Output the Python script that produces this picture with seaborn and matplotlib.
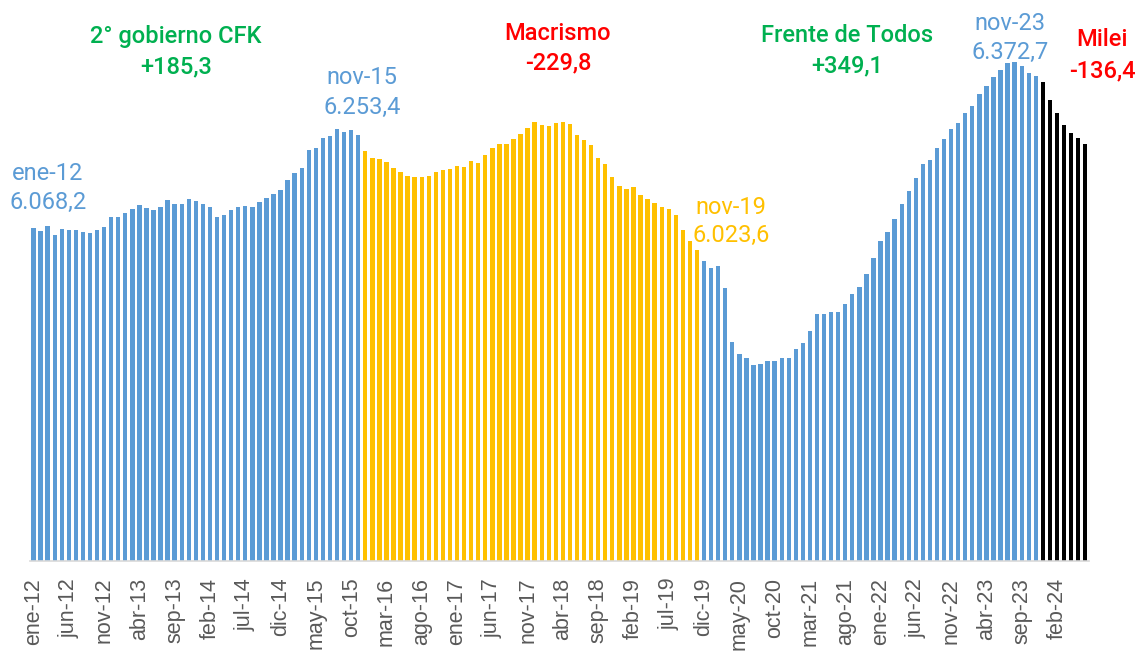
import matplotlib
matplotlib.use("Agg")
import matplotlib.pyplot as plt
import seaborn as sns
import pandas as pd

# monthly values (miles), ene-12 .. jun-24
meses = ["ene", "feb", "mar", "abr", "may", "jun", "jul", "ago", "sep", "oct", "nov", "dic"]
labels = [f"{m}-{y % 100:02d}" for y in range(2012, 2025) for m in meses][:150]

cfk2 = [6068.2, 6062.8, 6072.8, 6054.1, 6066.2, 6064.8, 6063.4, 6060.2, 6058.8, 6063.4,
        6069.4, 6090.9, 6090.9, 6098.3, 6105.6, 6115.0, 6109.0, 6103.0, 6110.4, 6124.4,
        6115.6, 6117.0, 6127.0, 6123.0, 6115.6, 6109.6, 6090.3, 6094.9, 6104.3, 6110.4,
        6112.4, 6110.4, 6119.6, 6127.6, 6135.1, 6143.1, 6163.2, 6177.9, 6187.3, 6223.4,
        6228.8, 6247.5, 6252.9, 6265.6, 6260.9, 6263.6, 6253.4]
macri = [6222.8, 6208.8, 6206.8, 6199.9, 6187.9, 6179.8, 6171.2, 6169.8, 6169.8, 6172.6,
         6180.6, 6184.7, 6186.7, 6192.7, 6189.9, 6201.3, 6198.0, 6213.4, 6227.4, 6235.5,
         6235.5, 6245.5, 6256.9, 6268.9, 6281.0, 6275.0, 6271.6, 6279.0, 6281.0, 6275.6,
         6254.1, 6243.5, 6234.8, 6208.8, 6195.3, 6169.2, 6152.5, 6145.1, 6150.5, 6133.1,
         6126.4, 6119.0, 6110.9, 6105.6, 6094.3, 6064.8, 6042.1, 6023.6]
fdt = [6002.5, 5987.9, 5991.9, 5947.7, 5839.3, 5815.2, 5807.8, 5792.3, 5795.1, 5800.3,
       5800.3, 5807.2, 5807.2, 5824.4, 5837.9, 5862.0, 5896.1, 5896.1, 5900.1, 5900.1,
       5914.8, 5935.7, 5950.3, 5975.0, 6008.0, 6042.1, 6060.8, 6086.3, 6117.0, 6142.5,
       6168.6, 6196.7, 6203.9, 6228.1, 6246.9, 6265.6, 6277.6, 6297.7, 6312.4, 6336.5,
       6353.3, 6370.6, 6385.5, 6399.5, 6400.8, 6392.7, 6379.4, 6372.7]
milei = [6361.4, 6324.4, 6297.7, 6273.6, 6257.5, 6248.9, 6236.3]

periodos = ["cfk"] * len(cfk2) + ["macri"] * len(macri) + ["fdt"] * len(fdt) + ["milei"] * len(milei)
colores = {"cfk": "#5B9BD5", "macri": "#FFC000", "fdt": "#5B9BD5", "milei": "#000000"}

df = pd.DataFrame({"mes": labels, "valor": cfk2 + macri + fdt + milei, "periodo": periodos})

sns.set_style("white")
plt.rcParams["font.family"] = ["Liberation Sans", "DejaVu Sans"]

fig = plt.figure(figsize=(11.36, 6.51), dpi=100)
ax = fig.add_axes([0.0264, 0.138, 0.932, 0.862])
sns.barplot(data=df, x="mes", y="valor", hue="periodo", palette=colores, saturation=1,
            dodge=False, width=0.62, legend=False, ax=ax, linewidth=0)

ax.set_ylim(5400, 6525)
ax.set_xlim(-0.5, len(df) - 0.5)
ax.set_yticks([])
ax.set_xlabel("")
ax.set_ylabel("")
ticks = list(range(0, len(df), 5))
ax.set_xticks(ticks)
ax.set_xticklabels([labels[i] for i in ticks], rotation=90, fontsize=15.5, color="#595959")
ax.tick_params(axis="x", length=0, pad=12)
for s in ["top", "left", "right"]:
    ax.spines[s].set_visible(False)
ax.spines["bottom"].set_color("#D9D9D9")
ax.spines["bottom"].set_linewidth(1.2)

def txt(x, y, s, color, size=16, weight="normal"):
    fig.text(x / 1136, 1 - y / 651, s, color=color, fontsize=size, fontweight=weight,
             ha="center", va="center", family=["Roboto", "DejaVu Sans"])

verde, rojo, azul, amarillo = "#00B050", "#FF0000", "#5B9BD5", "#FFC000"
txt(176, 37, "2° gobierno CFK", verde, 17, "medium")
txt(176, 67, "+185,3", verde, 17, "medium")
txt(558, 34, "Macrismo", rojo, 17, "medium")
txt(558, 63, "-229,8", rojo, 17, "medium")
txt(847, 36, "Frente de Todos", verde, 17, "medium")
txt(847, 66, "+349,1", verde, 17, "medium")
txt(1102, 40, "Milei", rojo, 17, "medium")
txt(1102, 71, "-136,4", rojo, 17, "medium")

txt(48, 174, "ene-12", azul, 17)
txt(48, 202, "6.068,2", azul, 17)
txt(362, 78, "nov-15", azul, 17)
txt(362, 107, "6.253,4", azul, 17)
txt(731, 207, "nov-19", amarillo, 17)
txt(731, 235, "6.023,6", amarillo, 17)
txt(1010, 24, "nov-23", azul, 17)
txt(1010, 52, "6.372,7", azul, 17)

fig.savefig("out.png", dpi=100)
